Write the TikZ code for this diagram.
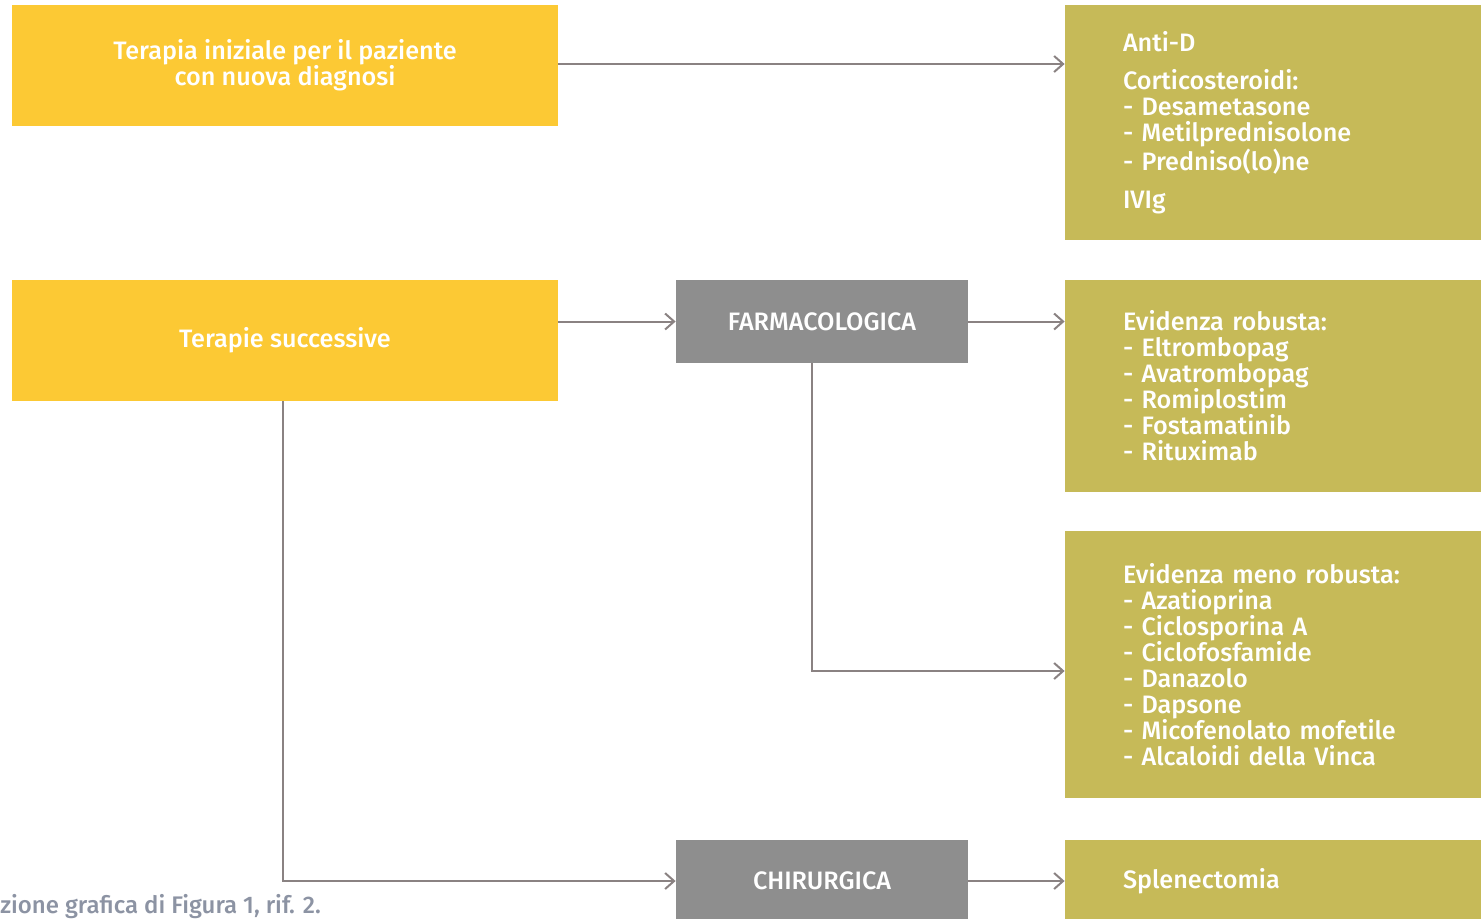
\documentclass[tikz,border=0pt]{standalone}
\usepackage{xcolor}
\usepackage{fontspec}
\setmainfont{Fira Sans}[UprightFont=* Medium]
\usepackage{tikz}
\usetikzlibrary{arrows,arrows.meta,shapes,positioning,calc}

\definecolor{ityellow}{HTML}{FCC934}
\definecolor{itolive}{HTML}{C6BA58}
\definecolor{itgray}{HTML}{8E8E8E}
\definecolor{itline}{HTML}{8A8282}
\definecolor{itcaption}{HTML}{8C93A3}

\tikzset{
  yellowbox/.style={rectangle, fill=ityellow, text=white, minimum width=273pt, minimum height=60.5pt, align=center, font=\fontsize{12.6}{13}\selectfont},
  graybox/.style={rectangle, fill=itgray, text=white, minimum width=146pt, minimum height=41.5pt, font=\fontsize{12.6}{13}\selectfont},
  olivebox/.style={rectangle, fill=itolive, text=white, inner xsep=29pt, text width=150pt, align=left, font=\fontsize{12.6}{13}\selectfont},
  link/.style={draw=itline, line width=1pt, -{Straight Barb[length=4.5pt, width=8pt]}}
}

\begin{document}
\begin{tikzpicture}[x=0.5pt, y=-0.5pt]
\useasboundingbox (0,0) rectangle (1481,918);
\clip (0,0) rectangle (1481,918);

% Left column
\node[yellowbox] (initial) at (285,65.5) {Terapia iniziale per il paziente\\con nuova diagnosi};
\node[yellowbox] (later) at (285,340.5) {Terapie successive};

% Middle column
\node[graybox] (pharma) at (822,321.5) {FARMACOLOGICA};
\node[graybox] (surgery) at (822,881) {CHIRURGICA};

% Right column
\node[olivebox, minimum height=117.5pt] (firstline) at (1273,122.5) {Anti-D\\[6pt]
Corticosteroidi:\\- Desametasone\\- Metilprednisolone\\- Predniso(lo)ne\\[6pt]
IVIg};
\node[olivebox, minimum height=106pt] (strong) at (1273,386) {Evidenza robusta:\\- Eltrombopag\\- Avatrombopag\\- Romiplostim\\- Fostamatinib\\- Rituximab};
\node[olivebox, minimum height=133.5pt] (weak) at (1273,664.5) {Evidenza meno robusta:\\- Azatioprina\\- Ciclosporina A\\- Ciclofosfamide\\- Danazolo\\- Dapsone\\- Micofenolato mofetile\\- Alcaloidi della Vinca};
\node[olivebox, minimum height=41pt] (splen) at (1273,881) {Splenectomia};

% Caption
\node[anchor=west, inner sep=0pt, text=itcaption, font=\fontsize{12}{13}\selectfont] (caption) at (0,907) {zione grafica di Figura 1, rif. 2.};

% Connections
\draw[link] ([yshift=0.75pt]initial.east) -- ([yshift=0.75pt]initial.east -| firstline.west);
\draw[link] (pharma.west -| later.east) -- (pharma.west);
\draw[link] (pharma.east) -- (pharma.east -| strong.west);
\draw[link] ([xshift=-5pt]pharma.south) |- ([yshift=-3.25pt]weak.west);
\draw[link] ([xshift=-1pt]later.south) |- (surgery.west);
\draw[link] (surgery.east) -- (surgery.east -| splen.west);

\end{tikzpicture}
\end{document}
